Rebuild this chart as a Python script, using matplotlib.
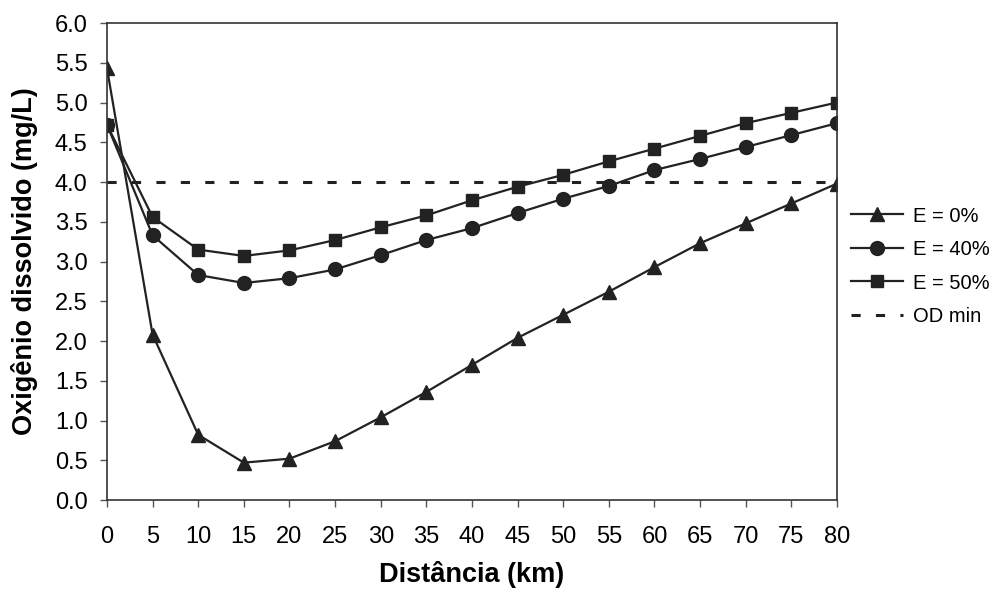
import matplotlib
matplotlib.use("Agg")
import matplotlib.pyplot as plt

plt.rcParams['font.family'] = ['Liberation Sans', 'DejaVu Sans']

# distancia (km)
dist = [0, 5, 10, 15, 20, 25, 30, 35, 40, 45, 50, 55, 60, 65, 70, 75, 80]

# oxigenio dissolvido (mg/L)
od_e0 = [5.43, 2.08, 0.82, 0.47, 0.52, 0.74, 1.04, 1.36, 1.70, 2.04, 2.33,
         2.62, 2.93, 3.23, 3.48, 3.73, 3.98]
od_e40 = [4.72, 3.33, 2.83, 2.73, 2.79, 2.90, 3.08, 3.27, 3.42, 3.61, 3.79,
          3.95, 4.15, 4.29, 4.44, 4.59, 4.74]
od_e50 = [4.72, 3.56, 3.15, 3.07, 3.14, 3.27, 3.43, 3.58, 3.77, 3.94, 4.09,
          4.26, 4.42, 4.58, 4.74, 4.87, 5.00]
od_min = 4.0

cor = '#222222'

fig = plt.figure(figsize=(9.97, 5.93), dpi=100)
ax = fig.add_axes([0.1073, 0.1568, 0.7322, 0.8044])

ax.plot(dist, od_e0, color=cor, lw=1.6, marker='^', ms=10, label='E = 0%')
ax.plot(dist, od_e40, color=cor, lw=1.6, marker='o', ms=10, label='E = 40%')
ax.plot(dist, od_e50, color=cor, lw=1.6, marker='s', ms=8.5, label='E = 50%')
ax.plot([dist[0], dist[-1]], [od_min, od_min], color=cor, lw=2.2,
        linestyle=(0, (3, 5)), label='OD min')

ax.set_xlim(0, 80)
ax.set_ylim(0, 6)
ax.set_xticks(range(0, 81, 5))
ax.set_yticks([i * 0.5 for i in range(13)])
ax.set_yticklabels(['%.1f' % (i * 0.5) for i in range(13)])
ax.tick_params(axis='x', direction='out', length=5, width=1, pad=14,
               labelsize=17, color='#555555')
ax.tick_params(axis='y', direction='out', length=5, width=1, pad=9,
               labelsize=17, color='#555555')
for s in ax.spines.values():
    s.set_color('#333333')
    s.set_linewidth(1.2)

ax.set_xlabel('Distância (km)', fontsize=19.5, fontweight='bold', labelpad=9)
ax.set_ylabel('Oxigênio dissolvido (mg/L)', fontsize=19.5, fontweight='bold',
              labelpad=12)

ax.legend(loc='center left', bbox_to_anchor=(1.0, 0.49), frameon=False,
          fontsize=14.5, handlelength=2.6, handletextpad=0.45,
          labelspacing=0.72, borderaxespad=0.3)

fig.savefig('out.png', dpi=100)
